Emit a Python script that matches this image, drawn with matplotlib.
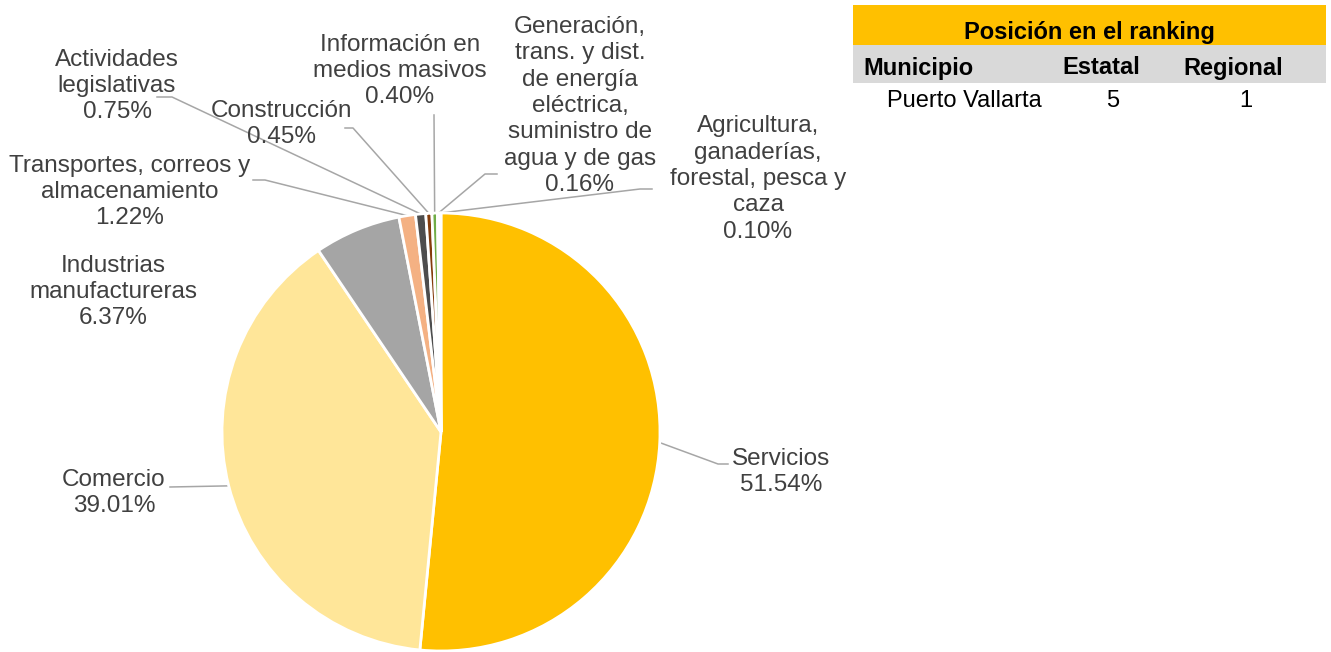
import numpy as np
import matplotlib.pyplot as plt
from matplotlib.patches import Rectangle

plt.rcParams['font.family'] = ['Liberation Sans', 'DejaVu Sans']

# datos
sectores = ['Servicios', 'Comercio', 'Industrias\nmanufactureras',
            'Transportes, correos y\nalmacenamiento', 'Actividades\nlegislativas',
            'Construcción', 'Información en\nmedios masivos',
            'Generación,\ntrans. y dist.\nde energía\neléctrica,\nsuministro de\nagua y de gas',
            'Agricultura,\nganaderías,\nforestal, pesca y\ncaza']
porcentajes = [51.54, 39.01, 6.37, 1.22, 0.75, 0.45, 0.40, 0.16, 0.10]
colores = ['#FFC000', '#FFE699', '#A5A5A5', '#F4B183', '#4D4D4D',
           '#843C0C', '#70AD47', '#5B9BD5', '#264478']

tabla_titulo = 'Posición en el ranking'
tabla_cols = ['Municipio', 'Estatal', 'Regional']
tabla_fila = ['Puerto Vallarta', '5', '1']

# posiciones de etiquetas (centro del texto) y codo de la linea guia, en pixeles
etq_pos = [(781, 472), (114, 493), (113, 292), (130, 192), (117, 86),
           (282, 124), (400, 71), (580, 106), (758, 179)]
codos = [(718, 464), (170, 487), None, (265, 180), (172, 97),
         (353, 128), (434, 115), (485, 174), (640, 189)]
fines = [(728, 464), None, None, (253, 180), (157, 97),
         (345, 128), None, (497, 174), (652, 189)]

W, H = 1331, 652
fig = plt.figure(figsize=(W / 100, H / 100), dpi=100)
ax = fig.add_axes([0, 0, 1, 1])

cx, cy, r = 441, 432, 219
wedges, _ = ax.pie(porcentajes, colors=colores, startangle=-90, counterclock=True,
                   center=(cx, cy), radius=r,
                   wedgeprops=dict(edgecolor='white', linewidth=2))
ax.set_xlim(0, W)
ax.set_ylim(H, 0)
ax.set_aspect('equal')
ax.axis('off')

txt_color = '#404040'
for w, nom, p, pos, codo, fin in zip(wedges, sectores, porcentajes, etq_pos, codos, fines):
    ax.text(pos[0], pos[1], f'{nom}\n{p:.2f}%', ha='center', va='center',
            fontsize=17.5, color=txt_color, linespacing=1.26)
    if codo is None:
        continue
    ang = np.deg2rad((w.theta1 + w.theta2) / 2)
    ax0 = cx + r * np.cos(ang)
    ay0 = cy + r * np.sin(ang)
    xs = [ax0, codo[0]]
    ys = [ay0, codo[1]]
    if fin is not None:
        xs.append(fin[0])
        ys.append(fin[1])
    ax.plot(xs, ys, color='#A6A6A6', lw=1.1, zorder=0.5)

# tabla
tx0, tx1 = 853, 1326
ax.add_patch(Rectangle((tx0, 5), tx1 - tx0, 40, facecolor='#FFC000', edgecolor='none'))
ax.add_patch(Rectangle((tx0, 45), tx1 - tx0, 38, facecolor='#D9D9D9', edgecolor='none'))
ax.text((tx0 + tx1) / 2, 32, tabla_titulo, ha='center', va='center',
        fontsize=17, fontweight='bold', color='black')
ax.text(863, 68, tabla_cols[0], ha='left', va='center', fontsize=17, fontweight='bold')
ax.text(1101, 68, tabla_cols[1], ha='center', va='center', fontsize=17, fontweight='bold')
ax.text(1233, 68, tabla_cols[2], ha='center', va='center', fontsize=17, fontweight='bold')
ax.text(964, 101, tabla_fila[0], ha='center', va='center', fontsize=17)
ax.text(1113, 101, tabla_fila[1], ha='center', va='center', fontsize=17)
ax.text(1246, 101, tabla_fila[2], ha='center', va='center', fontsize=17)

fig.savefig('out.png', dpi=100)
